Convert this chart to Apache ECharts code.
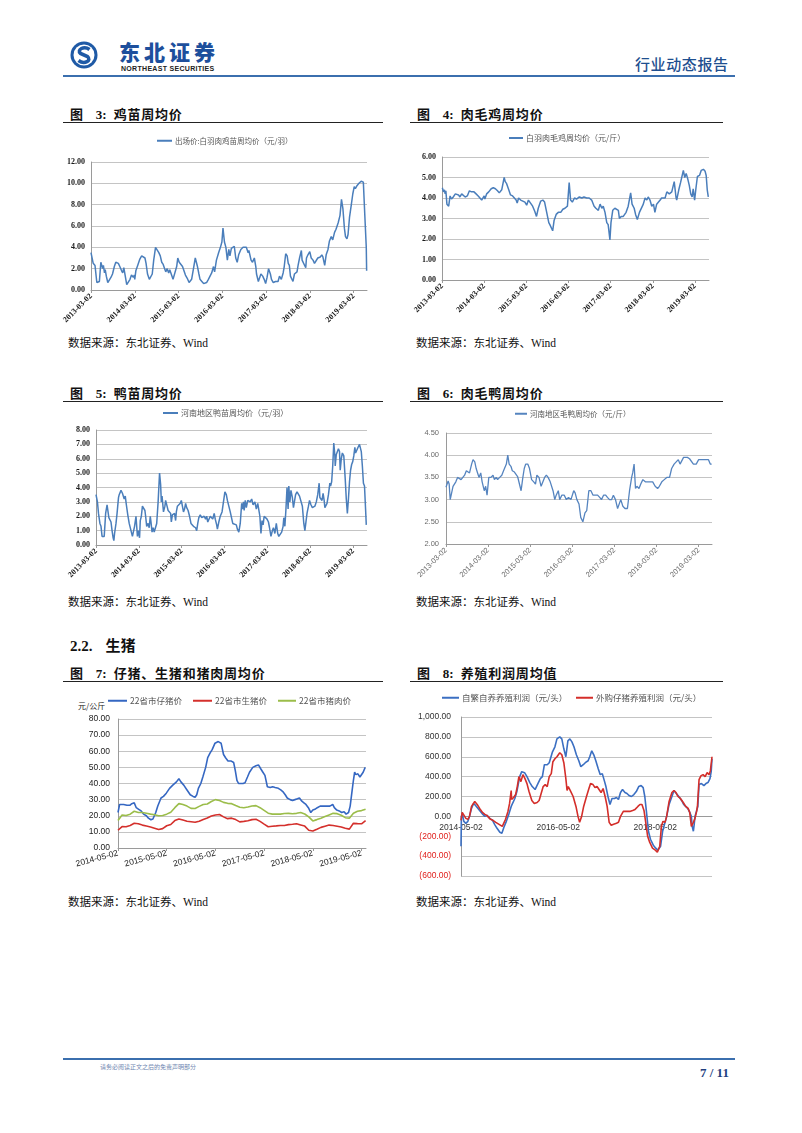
<!DOCTYPE html>
<html><head><meta charset="utf-8">
<script src="https://cdn.jsdelivr.net/npm/echarts@6/dist/echarts.min.js"></script>
<style>
html,body{margin:0;padding:0;background:#fff;}
#page{position:relative;width:802px;height:1133px;background:#fff;overflow:hidden;font-family:"Noto Sans CJK SC","Liberation Sans",sans-serif;}
.t{position:absolute;white-space:pre;line-height:1;}
.ttl{font-size:13px;font-weight:bold;color:#111;letter-spacing:0.8px;}
.ttl .n{font-family:"Liberation Serif",serif;font-weight:bold;margin-left:12px;margin-right:7px;letter-spacing:0;}
.rule{position:absolute;height:1px;background:#222;}
.src{font-size:11.5px;color:#111;}
.src .w{font-family:"Liberation Serif",serif;}
#chart{position:absolute;left:0;top:0;width:802px;height:1133px;}
</style></head>
<body><div id="page">
<svg style="position:absolute;left:70px;top:41px" width="28" height="28" viewBox="0 0 28 28">
 <circle cx="14" cy="14" r="13.5" fill="#1f5aa6"/>
 <circle cx="14" cy="14" r="10.5" fill="#fff"/>
 <path d="M19.5 8.5 C 14 4.5, 6.5 8.5, 10.5 12.5 L 17.5 15.5 C 22 19.5, 14.5 24, 8.5 19.5" stroke="#1f5aa6" stroke-width="3.6" fill="none"/>
</svg>
<div class="t" style="left:119px;top:41px;font-size:21px;font-weight:900;color:#1d4f9c;letter-spacing:4px;">东北证券</div>
<div class="t" style="left:121px;top:65px;font-size:7px;font-weight:bold;color:#222;font-family:'Liberation Sans',sans-serif;letter-spacing:0.3px;">NORTHEAST SECURITIES</div>
<div class="t" style="left:635px;top:56px;font-size:15px;color:#1f4f8f;letter-spacing:0.6px;font-weight:500;">行业动态报告</div>
<div style="position:absolute;left:63px;top:75px;width:672px;height:2px;background:#3b6fae;"></div>

<div class="t ttl" style="left:70px;top:107px;">图<span class="n">3:</span>鸡苗周均价</div>
<div class="rule" style="left:63px;top:122px;width:320px;"></div>
<div class="t ttl" style="left:417px;top:107px;">图<span class="n">4:</span>肉毛鸡周均价</div>
<div class="rule" style="left:410px;top:122px;width:313px;"></div>
<div class="t src" style="left:68px;top:337px;">数据来源：东北证券、<span class="w">Wind</span></div>
<div class="t src" style="left:416px;top:337px;">数据来源：东北证券、<span class="w">Wind</span></div>

<div class="t ttl" style="left:70px;top:386px;">图<span class="n">5:</span>鸭苗周均价</div>
<div class="rule" style="left:63px;top:401px;width:320px;"></div>
<div class="t ttl" style="left:417px;top:386px;">图<span class="n">6:</span>肉毛鸭周均价</div>
<div class="rule" style="left:410px;top:401px;width:313px;"></div>
<div class="t src" style="left:68px;top:596px;">数据来源：东北证券、<span class="w">Wind</span></div>
<div class="t src" style="left:416px;top:596px;">数据来源：东北证券、<span class="w">Wind</span></div>

<div class="t" style="left:70px;top:637px;font-size:15px;font-weight:bold;color:#111;"><span style="font-family:'Liberation Serif',serif;">2.2.</span><span style="margin-left:13px;">生猪</span></div>
<div class="t ttl" style="left:70px;top:666px;">图<span class="n">7:</span>仔猪、生猪和猪肉周均价</div>
<div class="rule" style="left:63px;top:681px;width:320px;"></div>
<div class="t ttl" style="left:417px;top:666px;">图<span class="n">8:</span>养殖利润周均值</div>
<div class="rule" style="left:410px;top:681px;width:313px;"></div>
<div class="t" style="left:78px;top:702px;font-size:8px;color:#222;">元/公斤</div>
<div class="t src" style="left:68px;top:896px;">数据来源：东北证券、<span class="w">Wind</span></div>
<div class="t src" style="left:416px;top:896px;">数据来源：东北证券、<span class="w">Wind</span></div>

<div style="position:absolute;left:63px;top:1058px;width:672px;height:2px;background:#3b6fae;"></div>
<div class="t" style="left:100px;top:1064px;font-size:6px;color:#6f86b0;">请务必阅读正文之后的免责声明部分</div>
<div class="t" style="left:700px;top:1066px;font-size:13px;font-weight:bold;color:#1f3f7f;font-family:'Liberation Serif',serif;">7 / 11</div>

<div id="chart"></div>
</div>
<script>
// ---------- tick labels ----------
const ticksA = ['2013-03-02','2014-03-02','2015-03-02','2016-03-02','2017-03-02','2018-03-02','2019-03-02'];
const ticksB = ['2014-05-02','2015-05-02','2016-05-02','2017-05-02','2018-05-02','2019-05-02'];

// ---------- 图3 鸡苗 (months since 2013-03-02) ----------
const c3Months = [0,0.6,1.1,1.6,2.3,2.7,3.2,3.4,3.7,3.9,
4.2,4.6,5.0,5.5,5.9,6.4,6.8,7.5,7.9,8.4,
8.7,9.0,9.3,9.8,10.2,10.7,11.1,11.6,11.9,12.0,
12.3,12.8,13.4,13.9,14.3,14.8,15.1,15.5,16.0,16.3,
16.8,17.2,17.7,18.2,18.6,19.0,19.4,19.8,20.2,20.5,
20.9,21.3,21.6,22.1,22.5,23.0,23.5,23.8,24.2,24.6,
25.1,25.5,25.9,26.4,26.9,27.3,27.6,28.0,28.6,28.9,
29.2,29.6,29.9,30.4,30.9,31.7,32.2,32.6,33.1,33.6,
33.9,34.4,35.0,35.5,35.9,36.2,36.6,37.0,37.4,37.8,
38.1,38.5,39.0,39.3,39.7,40.1,40.5,41.1,41.7,42.2,
42.6,43.1,43.3,43.9,44.3,44.8,45.2,45.4,45.9,46.3,
46.6,47.1,47.5,47.9,48.3,48.7,49.2,49.5,50.0,50.6,
51.3,51.7,52.2,52.7,53.0,53.4,53.8,54.1,54.4,54.7,
55.4,55.8,56.5,56.8,57.2,57.7,57.9,58.6,58.9,59.1,
59.5,60.0,60.4,60.9,61.3,61.8,62.2,62.9,63.3,63.6,
64.1,64.5,65.0,65.4,65.9,66.3,66.8,67.2,67.8,68.3,
68.7,69.1,69.5,69.8,70.2,70.5,70.9,71.4,71.8,72.2,
72.5,73.0,73.5,74.1,74.7,75.1,75.5,75.6];
const c3Price = [3.5,2.5,2.3,0.7,0.8,2.6,2.0,2.3,1.6,1.9,
1.3,0.7,0.8,1.2,1.5,2.2,2.6,2.5,2.2,1.8,
1.6,2.1,2.0,0.5,0.6,1.0,1.4,1.2,1.4,1.0,
1.8,2.3,2.9,3.2,3.3,3.0,2.5,1.5,1.0,0.9,
1.5,2.8,4.0,3.9,3.5,3.2,2.6,2.4,2.0,1.7,
2.0,1.6,1.9,1.4,1.0,1.1,2.2,3.0,2.6,2.5,
2.2,2.1,1.4,1.1,0.7,0.6,1.0,1.8,3.0,2.6,
2.2,1.5,1.0,0.8,0.6,0.7,1.0,0.9,1.6,2.2,
1.7,2.8,3.5,4.0,4.5,5.8,4.5,4.0,2.8,3.8,
3.2,3.9,4.0,4.1,3.0,2.6,3.3,3.8,4.0,4.1,
4.0,3.5,3.7,2.8,2.6,3.0,2.2,1.5,0.8,0.7,
1.5,1.3,1.0,0.6,1.2,2.0,1.5,1.0,0.7,0.8,
0.8,1.3,1.0,1.6,2.2,3.4,3.2,2.5,2.3,1.3,
0.8,1.5,1.7,2.3,3.0,3.7,2.8,2.3,2.1,3.0,
3.3,3.6,3.0,2.8,2.5,2.4,3.0,3.1,3.3,3.1,
2.3,3.3,3.8,4.6,5.0,4.7,5.4,5.7,6.3,7.0,
8.5,7.6,5.8,5.0,4.8,5.2,6.8,8.0,9.0,9.7,
9.5,9.8,10.0,10.2,10.1,7.0,4.0,1.8];

// ---------- 图4 肉毛鸡 ----------
const c4Months = [0.1,0.4,0.7,0.9,1.1,1.4,1.9,2.3,2.7,3.2,
3.8,4.2,4.7,5.1,5.6,6.1,6.6,7.2,7.8,8.4,
9.1,9.7,10.3,10.8,11.3,12.0,12.2,12.7,13.3,14.0,
14.6,15.2,15.8,16.3,17.0,17.7,18.0,18.4,19.0,19.5,
20.1,20.5,21.1,21.4,21.8,22.4,23.0,23.6,24.1,24.6,
25.1,25.8,26.4,26.9,27.4,28.1,28.7,29.2,29.8,30.4,
30.7,31.5,31.9,32.5,33.1,33.8,34.4,35.0,35.7,36.2,
36.6,37.1,37.7,38.3,39.1,39.8,40.4,41.2,41.9,42.6,
43.3,43.8,44.5,45.0,45.5,45.9,46.4,46.9,47.3,47.8,
48.1,48.6,49.2,49.7,50.2,50.5,51.0,51.6,52.4,53.0,
53.7,54.1,54.7,55.1,55.6,56.2,56.7,57.3,57.8,58.3,
58.7,59.2,59.7,60.2,60.6,61.1,61.6,62.1,62.5,63.0,
63.5,64.0,64.7,65.4,66.1,66.6,66.8,67.4,67.9,68.7,
69.1,69.5,70.0,70.4,70.8,71.2,71.5,71.9,72.3,72.7,
73.3,73.8,74.4,74.9,75.2,75.5,75.8];
const c4Price = [4.5,4.3,4.4,4.2,4.35,3.7,3.6,4.1,3.95,4.05,
4.2,4.25,4.15,4.05,4.2,4.25,4.05,4.1,4.35,4.3,
4.3,4.2,4.1,4.0,3.9,4.1,3.95,4.2,4.3,4.45,
4.5,4.45,4.35,4.25,4.4,5.0,4.8,4.7,4.4,4.15,
4.1,4.05,3.9,3.75,4.0,3.9,3.85,3.8,3.65,3.9,
3.85,3.6,3.35,3.1,3.5,3.85,3.9,3.8,3.3,2.8,
2.7,2.4,2.9,3.2,3.3,3.3,3.45,3.5,3.6,4.75,
3.9,3.8,4.0,3.95,4.05,4.0,4.05,4.0,4.0,3.9,
3.6,3.5,3.4,3.7,3.5,3.6,3.3,2.8,2.7,1.95,
2.8,3.4,3.5,3.55,3.4,3.0,3.1,3.1,3.3,3.6,
4.25,3.7,3.5,3.2,2.95,3.3,3.35,3.7,4.0,3.9,
4.05,3.9,3.6,3.7,3.3,3.7,3.75,3.9,4.0,3.95,
4.0,4.3,4.2,4.3,4.8,4.05,3.9,4.4,4.75,5.35,
5.0,5.2,4.9,4.6,4.2,4.05,4.45,3.9,4.5,5.05,
5.1,5.35,5.4,5.3,5.1,4.4,4.05];

// ---------- 图5 鸭苗 ----------
const c5Months = [0,0.4,0.7,1.1,1.4,1.7,2.1,2.3,2.7,3.1,
3.4,3.6,3.9,4.2,4.5,4.8,5.0,5.2,5.6,5.9,
6.3,6.5,6.7,7.0,7.4,7.7,7.9,8.2,8.5,8.9,
9.3,9.5,9.8,10.2,10.5,10.8,11.2,11.6,11.9,12.2,
12.4,12.7,13.0,13.4,13.7,13.9,14.2,14.6,14.9,15.2,
15.4,15.7,16.0,16.3,16.6,17.0,17.4,17.8,18.1,18.3,
18.5,18.9,19.3,19.5,19.9,20.2,20.5,20.9,21.1,21.4,
21.7,22.0,22.3,22.5,22.8,23.2,23.6,23.9,24.2,24.5,
24.8,25.1,25.4,25.8,26.2,26.6,27.3,27.9,28.2,28.5,
28.8,29.2,29.6,29.9,30.3,30.7,31.0,31.3,31.6,32.0,
32.4,32.7,33.1,33.4,33.8,34.0,34.4,34.8,35.3,35.7,
36.1,36.5,36.8,37.2,37.6,38.0,38.3,38.7,39.3,39.6,
40.0,40.4,40.8,41.1,41.3,41.5,41.8,42.1,42.5,42.8,
43.2,43.6,44.0,44.5,44.9,45.3,45.6,45.9,46.2,46.5,
46.8,47.1,47.5,47.9,48.3,48.6,49.0,49.4,49.7,50.1,
50.5,50.9,51.2,51.6,52.0,52.4,52.6,52.9,53.2,53.5,
53.8,54.0,54.3,54.6,55.0,55.3,55.5,55.9,56.3,56.7,
57.0,57.4,57.8,58.2,58.5,58.8,59.1,59.5,59.8,60.2,
60.6,61.0,61.3,61.7,62.1,62.5,62.7,63.0,63.3,63.6,
63.9,64.1,64.4,64.7,65.1,65.5,65.7,66.0,66.3,66.6,
66.9,67.0,67.3,67.6,67.9,68.2,68.4,68.7,69.0,69.4,
69.8,70.1,70.4,70.7,71.0,71.3,71.6,71.9,72.2,72.5,
72.7,73.0,73.4,73.8,74.1,74.3,74.6,74.9,75.2,75.5,
75.7];
const c5Price = [3.5,3.0,2.2,1.5,1.3,0.6,0.5,0.6,2.2,2.8,
2.8,1.9,2.0,1.6,1.0,0.5,0.3,0.8,1.5,2.2,
3.3,3.5,3.4,3.8,3.6,3.5,3.2,3.4,2.8,2.1,
1.5,1.4,1.0,0.6,0.7,1.3,2.0,0.6,1.0,0.5,
1.7,2.0,2.7,2.6,2.4,2.0,1.3,1.5,1.2,2.0,
1.6,0.9,1.2,0.9,1.0,1.5,3.0,5.0,4.2,3.0,
3.4,2.3,2.7,3.1,2.7,2.4,2.5,2.2,1.6,2.1,
2.0,2.2,1.7,2.3,2.7,2.8,2.9,3.1,2.7,2.3,
2.5,2.9,2.6,2.4,2.0,1.5,1.3,1.2,1.0,1.5,
1.9,2.1,1.9,2.0,2.0,1.8,2.0,1.6,1.5,2.0,
2.1,1.8,2.2,1.8,1.4,1.1,1.6,2.0,2.3,2.3,
3.7,3.5,3.1,2.7,2.3,2.2,1.5,1.5,1.4,1.1,
0.9,1.5,2.9,2.5,3.0,2.4,3.1,2.6,3.1,3.2,
3.0,3.2,2.8,3.0,2.5,2.9,2.8,2.0,0.8,1.7,
1.4,2.0,2.0,1.8,1.6,1.2,0.6,1.0,1.2,0.8,
1.5,0.8,0.6,0.5,0.9,1.3,1.9,1.3,2.5,4.0,
2.5,4.1,3.0,3.8,3.3,2.6,2.6,3.5,3.7,3.8,
3.4,3.5,2.7,1.5,1.0,1.0,2.2,2.7,3.1,2.8,
2.6,2.7,2.7,3.0,3.5,4.3,3.3,3.3,3.1,3.6,
3.1,2.6,2.7,2.9,3.5,4.3,4.1,4.4,5.5,7.1,
6.2,5.5,6.3,6.4,6.7,6.5,5.2,6.0,6.4,6.2,
4.6,3.2,2.2,3.2,4.4,5.2,5.6,5.8,6.2,6.8,
6.4,6.5,6.8,7.0,6.9,6.5,5.5,4.3,4.1,2.5,
1.4];

// ---------- 图6 肉毛鸭 ----------
const c6Months = [0,0.3,0.6,0.9,1.2,1.7,2.0,2.4,2.8,3.3,
3.7,4.3,4.8,5.3,5.8,6.2,6.7,7.3,7.7,8.2,
8.6,9.0,9.4,9.9,10.3,10.9,11.3,11.7,12.2,12.8,
13.4,13.8,14.3,14.7,15.3,15.9,16.4,16.8,17.2,17.6,
18.0,18.5,18.9,19.5,20.0,20.4,20.8,21.4,21.9,22.3,
22.7,23.3,23.8,24.4,25.0,25.5,25.9,26.5,27.1,27.6,
28.1,28.6,29.1,29.7,30.5,31.0,31.4,32.0,32.4,33.0,
33.7,34.3,34.9,35.6,36.4,36.8,37.3,37.9,38.4,39.0,
39.6,40.1,40.7,41.3,41.9,42.5,43.2,43.8,44.3,44.9,
45.5,46.0,46.6,47.2,47.7,48.3,48.9,49.4,49.8,50.4,
51.0,51.7,52.3,52.9,53.2,53.6,54.0,54.4,55.0,55.5,
56.1,56.8,57.4,58.2,58.9,59.6,60.3,60.8,61.5,62.2,
62.9,63.7,64.3,65.0,65.6,66.2,66.7,67.2,67.7,68.2,
68.8,69.4,69.9,70.5,71.3,72.0,72.9,73.8,74.8,75.3,
75.7];
const c6Price = [3.28,3.3,3.42,3.35,3.0,2.97,3.3,3.35,3.4,3.5,
3.52,3.45,3.42,3.55,3.65,3.62,3.6,3.8,3.9,3.85,
3.7,3.6,3.5,3.6,3.4,3.2,3.3,3.1,3.5,3.5,
3.55,3.45,3.5,3.45,3.5,3.55,3.65,3.65,3.8,4.0,
3.8,3.75,3.65,3.62,3.6,3.52,3.5,3.2,3.5,3.7,
3.8,3.8,3.7,3.45,3.4,3.35,3.55,3.5,3.3,3.3,
3.5,3.55,3.5,3.4,3.2,3.0,3.1,3.2,3.0,3.1,
3.1,3.0,3.05,3.0,3.2,3.15,3.0,2.9,2.6,2.5,
2.7,2.75,3.2,3.2,3.1,3.1,3.1,3.05,3.0,3.1,
3.1,3.05,3.0,3.0,3.1,3.0,2.8,2.8,3.0,2.85,
2.8,2.8,3.2,3.5,3.6,3.8,3.25,3.3,3.25,3.35,
3.45,3.4,3.4,3.4,3.4,3.3,3.25,3.3,3.4,3.45,
3.5,3.5,3.7,3.8,3.85,3.9,3.8,3.8,3.95,3.92,
3.95,3.92,3.9,3.8,3.8,3.9,3.9,3.9,3.9,3.8,
3.8];

// ---------- 图7 猪价 (months since 2014-05-02) ----------
const c7PigletMonths = [0,0.4,0.8,1.4,2.2,2.9,3.4,4.0,4.5,5.1,
5.7,6.3,7.0,7.5,8.1,8.6,9.3,9.8,10.6,11.2,
11.9,12.7,13.5,14.4,15.0,15.5,16.2,17.0,17.8,18.5,
19.0,19.4,19.8,20.4,20.9,21.6,22.1,22.7,23.2,23.9,
24.7,25.4,26.0,26.5,27.1,27.8,28.5,28.9,29.3,29.7,
30.1,30.8,31.3,31.9,32.4,33.2,34.0,34.6,35.2,35.7,
36.2,36.8,37.5,38.1,38.7,39.5,40.1,40.6,41.2,41.7,
42.4,43.0,43.6,44.2,44.7,45.3,45.8,46.3,46.9,47.5,
48.0,48.5,49.1,49.8,50.6,51.4,52.2,52.9,53.3,53.9,
54.5,55.1,55.7,56.2,56.5,56.8,57.2,57.4,57.7,58.0,
58.3,58.6,59.1,59.6,60.0,60.4,60.9];
const c7Piglet = [22,27,28,27,26.5,26.5,27.5,28,25,24,
23,21,20,18.5,17.5,18,22,26,31,32,
34,37,39,41,43,41,39,36,33,32,
31.5,33,37,40,44,50,56,59,61,65,
66,65,58,56,54,54,53,48,42,40,
39.5,40,40.5,44,47,50,51,51.5,49,47,
45,38,37.5,38,37.5,37,36,35,33,31,
30,29.5,30,30.5,31,29,28,27,25,22,
23.5,24,25,26,26,26,26,27,25,23.5,
23,22,22.5,21,20,22,26,30,36,42,
47,45.5,46,44,44,47,50];
// monthly (index = months since 2014-05-02)
const c7Hog = [11,13.3,13.2,14,15.3,15,14.2,13.6,13,12.3,
11.5,12,13.8,14.6,17,18,17.4,16.6,16.3,16,
16.6,17.7,18.6,19.8,20.5,20.8,19.3,18.2,18.5,17.6,
16.2,16.5,16.9,17.6,17.8,16.5,14.8,13.2,13.5,13.7,
14,14,14.5,14.7,15,14.3,13.6,11,10.5,11.6,
12.8,13.5,14.2,14,13.5,13,12.2,11.7,15.3,15.1,
15,17];
const c7Pork = [17,20.5,20.2,21,22.8,22,22,21.6,21,20.6,
20,20.2,21,22.2,25,27.5,27,26,24.6,24.5,
25.8,27,27.3,28.8,30,29.5,28.3,27.7,27.5,26.3,
25.3,25,25.4,26,26.3,25,23.3,21.6,21,21,
21,21.4,21.5,21.2,21.5,22,21.1,19.3,16.8,17.6,
18.5,19.5,20.5,21.5,21.3,20.3,18.8,18.5,21.5,22.8,
23.2,24];

// ---------- 图8 养殖利润 (months since 2014-05-02) ----------
const c8SelfMonths = [0,0.1,0.3,0.7,1.2,1.7,2.1,2.6,3.1,3.6,
4.2,4.8,5.4,5.9,6.4,7.1,7.8,8.3,8.9,9.6,
10.1,10.6,11.2,11.8,12.4,13.3,13.8,14.5,15.0,15.7,
16.3,17.0,17.6,18.3,19.0,19.6,20.1,20.6,21.3,21.8,
22.1,22.6,23.2,23.7,24.4,24.9,25.4,25.9,26.4,26.9,
27.4,27.9,28.5,29.1,29.6,30.2,30.7,31.4,31.8,32.3,
32.8,33.3,33.9,34.4,34.9,35.4,35.8,36.3,36.8,37.3,
37.9,38.4,38.9,39.4,39.9,40.5,41.0,41.5,42.1,42.7,
43.3,43.9,44.5,45.0,45.4,45.8,46.3,46.8,47.5,48.1,
48.6,49.0,49.3,49.8,50.4,50.8,51.4,52.1,52.6,53.2,
53.8,54.5,55.0,55.5,56.0,56.5,56.9,57.1,57.4,57.6,
57.8,58.2,58.5,58.8,59.4,60.0,60.5,61.0,61.5,61.8,
62.0];
const c8SelfBred = [-300,0,30,-50,-70,-50,0,80,130,110,
80,50,20,0,10,-20,-40,-80,-120,-160,
-170,-110,-50,20,100,180,250,400,450,440,
400,340,300,270,330,380,400,520,520,540,
520,650,700,780,800,780,680,600,760,780,
750,700,620,560,500,520,540,560,600,660,
620,560,480,420,430,360,300,200,120,180,
180,190,170,240,270,240,230,210,200,220,
250,300,310,290,200,50,-150,-230,-290,-320,
-340,-350,-300,-150,-60,0,120,200,260,230,
200,160,120,100,80,40,0,-100,-150,-80,
0,-20,100,320,330,310,330,340,380,450,
580];
const c8BoughtMonths = [0,0.3,0.7,1.2,1.7,2.1,2.6,3.4,4.0,4.6,
5.3,5.9,6.4,7.3,7.9,8.6,9.4,10.2,11.0,11.6,
12.0,12.4,12.5,13.0,13.5,13.9,14.3,14.8,15.3,15.8,
16.3,16.8,17.5,18.1,18.8,19.3,19.8,20.3,20.8,21.3,
21.8,22.3,22.7,23.2,23.7,24.4,24.9,25.4,25.9,26.2,
26.5,27.0,27.7,28.4,28.9,29.3,29.8,30.3,31.0,31.6,
32.0,32.6,33.1,33.6,34.1,34.6,35.1,35.6,36.1,36.6,
37.1,37.7,38.4,38.9,39.4,40.1,40.9,41.7,42.4,43.0,
43.7,44.2,44.7,45.2,45.7,46.1,46.6,47.3,48.0,48.5,
48.8,49.1,49.5,49.9,50.4,50.8,51.4,52.1,52.6,53.1,
53.6,54.2,54.9,55.5,56.1,56.5,56.9,57.4,57.8,58.2,
58.4,58.8,59.3,59.8,60.3,60.8,61.3,61.6,62.0];
const c8Bought = [-40,40,20,-20,-30,0,100,150,120,80,
40,20,10,-30,-40,-60,-80,-100,-30,50,
130,260,170,190,220,300,400,350,420,380,
330,250,160,130,140,160,230,300,320,300,
400,430,550,580,600,640,620,540,380,260,
300,260,200,100,0,-60,0,100,200,280,
330,320,290,300,270,240,280,200,100,-60,
-90,-80,-70,-60,0,50,50,50,60,70,
100,120,120,60,-80,-200,-260,-320,-340,-360,
-370,-300,-100,-50,-60,0,150,240,260,240,
200,180,140,100,80,40,-100,-60,-20,50,
100,370,410,420,400,440,420,460,600];

// ---------- helpers ----------
const zip = (xs, ys) => { const n = Math.min(xs.length, ys.length); const r = []; for (let i = 0; i < n; i++) r.push([xs[i], ys[i]]); return r; };
const idx = ys => ys.map((v, i) => [i, v]);
const tickFmt = ticks => v => { const i = Math.round(v / 12); return (Math.abs(v - i * 12) < 1e-6 && ticks[i] !== undefined) ? ticks[i] : ''; };

const excelBlue = '#4a7ebb';
const serifLbl = { fontFamily: 'Liberation Serif', fontWeight: 'bold', fontSize: 8, color: '#1a1a1a' };
const grids = [
  { left: 91, top: 162, width: 276, height: 128 },
  { left: 442, top: 157, width: 267, height: 123 },
  { left: 96, top: 430, width: 271, height: 115 },
  { left: 446, top: 433, width: 266, height: 111 },
  { left: 118, top: 719, width: 248, height: 129 },
  { left: 461, top: 717, width: 251, height: 159 }
];
// profit chart value range; x axis (dates) sits on the zero line
const y8Min = -600, y8Max = 1000;
const x8Offset = -grids[5].height * (0 - y8Min) / (y8Max - y8Min);

function xA(gi, max, ticks, lbl, rotate, interval, extra) {
  return Object.assign({
    type: 'value', gridIndex: gi, min: 0, max: max, interval: interval || 12,
    axisLine: { show: true, onZero: false, lineStyle: { color: '#9a9a9a', width: 1 } },
    axisTick: { show: true, length: 3, lineStyle: { color: '#9a9a9a' } },
    splitLine: { show: false },
    axisLabel: Object.assign({ formatter: tickFmt(ticks), rotate: rotate, margin: 5, showMaxLabel: false }, lbl)
  }, extra || {});
}
function yA(gi, min, max, interval, lbl, margin) {
  return {
    type: 'value', gridIndex: gi, min: min, max: max, interval: interval,
    axisLine: { show: true, onZero: false, lineStyle: { color: '#9a9a9a', width: 1 } },
    axisTick: { show: false },
    splitLine: { show: true, lineStyle: { color: '#c4c4c4', width: 1 } },
    axisLabel: Object.assign({ formatter: v => v.toFixed(2), margin: margin || 6 }, lbl)
  };
}
function ln(name, gi, data, color, w) {
  return { type: 'line', name: name, xAxisIndex: gi, yAxisIndex: gi, data: data,
    showSymbol: false, symbol: 'none', animation: false,
    lineStyle: { color: color, width: w || 1.5 }, itemStyle: { color: color } };
}
function lg(names, left, top, fs, iw) {
  return { data: names, left: left, top: top, padding: 0, icon: 'rect', itemWidth: iw || 15, itemHeight: 2,
    itemGap: 20, selectedMode: false,
    textStyle: { fontSize: fs || 7.5, color: '#555', fontFamily: 'Noto Sans CJK SC', padding: [0, 0, 0, -2] } };
}

const sansLbl = { fontFamily: 'Liberation Sans', fontSize: 8.5, color: '#222' };
const grayLbl = { fontFamily: 'Liberation Sans', fontSize: 7.5, color: '#6a6a6a' };

const n3 = '出场价:白羽肉鸡苗周均价（元/羽）';
const n4 = '白羽肉毛鸡周均价（元/斤）';
const n5 = '河南地区鸭苗周均价（元/羽）';
const n6 = '河南地区毛鸭周均价（元/斤）';
const n7a = '22省市仔猪价', n7b = '22省市生猪价', n7c = '22省市猪肉价';
const n8a = '自繁自养养殖利润（元/头）', n8b = '外购仔猪养殖利润（元/头）';

const chart = echarts.init(document.getElementById('chart'), null, { renderer: 'canvas' });
chart.setOption({
  animation: false,
  backgroundColor: 'transparent',
  grid: grids,
  legend: [
    lg([n3], 157, 137),
    lg([n4], 509, 134, 8, 14),
    lg([n5], 163, 409, 8),
    lg([n6], 515, 410, 7.5, 12),
    lg([n7a], 108, 696.5, 8.5, 19),
    lg([n7b], 193, 696.5, 8.5, 19),
    lg([n7c], 278, 696.5, 8.5, 18),
    lg([n8a], 442, 693.5, 8.5, 17),
    lg([n8b], 576, 693.5, 8.5, 17)
  ],
  xAxis: [
    xA(0, 75.7, ticksA, serifLbl, 45),
    xA(1, 76.0, ticksA, serifLbl, 45),
    xA(2, 75.9, ticksA, serifLbl, 45),
    xA(3, 75.8, ticksA, grayLbl, 45),
    xA(4, 61.1, ticksB, sansLbl, 15),
    xA(5, 62, ticksB, { fontFamily: 'Liberation Sans', fontSize: 8.5, color: '#333', margin: 7 }, 0, 24,
      { offset: x8Offset, axisLine: { show: true, onZero: false, lineStyle: { color: '#9a9a9a' } }, axisTick: { show: false } })
  ],
  yAxis: [
    yA(0, 0, 12, 2, serifLbl, 6),
    yA(1, 0, 6, 1, serifLbl, 6),
    yA(2, 0, 8, 1, serifLbl, 6),
    yA(3, 2, 4.5, 0.5, grayLbl, 7),
    yA(4, 0, 80, 10, sansLbl, 8),
    Object.assign(yA(5, y8Min, y8Max, 200, { fontFamily: 'Liberation Sans', fontSize: 8.5 }, 10), {
      axisLabel: {
        fontFamily: 'Liberation Sans', fontSize: 8.5, margin: 10,
        formatter: v => { const s = Math.abs(v).toLocaleString('en-US', { minimumFractionDigits: 2, maximumFractionDigits: 2 }); return v < 0 ? '(' + s + ')' : s; },
        color: v => (Number(v) < 0 ? '#e0201c' : '#333')
      }
    })
  ],
  series: [
    ln(n3, 0, zip(c3Months, c3Price), excelBlue),
    ln(n4, 1, zip(c4Months, c4Price), excelBlue),
    ln(n5, 2, zip(c5Months, c5Price), excelBlue),
    ln(n6, 3, zip(c6Months, c6Price), '#5584bf', 1.3),
    ln(n7a, 4, zip(c7PigletMonths, c7Piglet), '#3567c2', 1.6),
    ln(n7b, 4, idx(c7Hog), '#d4302c', 1.6),
    ln(n7c, 4, idx(c7Pork), '#9bbd4a', 1.6),
    ln(n8a, 5, zip(c8SelfMonths, c8SelfBred), '#3b6fc2', 1.6),
    ln(n8b, 5, zip(c8BoughtMonths, c8Bought), '#d42e2a', 1.6)
  ]
});
</script>
</body></html>
